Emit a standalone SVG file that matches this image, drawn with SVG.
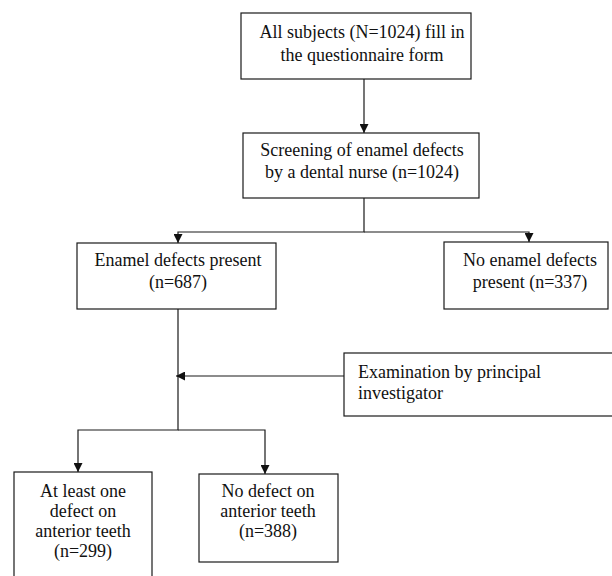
<svg xmlns="http://www.w3.org/2000/svg" width="612" height="576" viewBox="0 0 612 576">
<style>
.box{fill:#fff;stroke:#1a1a1a;stroke-width:1.2}
.t{font-family:"Liberation Serif","Times New Roman",serif;font-size:18px;fill:#111}
.c{text-anchor:middle}
.ln{fill:none;stroke:#1a1a1a;stroke-width:1.2}
</style>
<defs>
<marker id="ah" viewBox="0 0 10 10" refX="10" refY="5" markerWidth="9" markerHeight="9" markerUnits="userSpaceOnUse" orient="auto">
<path d="M0,0 L10,5 L0,10 Z" fill="#111"/>
</marker>
</defs>
<rect width="612" height="576" fill="#fff"/>
<g id="connectors">
<path class="ln" d="M364,79 V133" marker-end="url(#ah)"/>
<path class="ln" d="M364,198 V232 H178 V243" marker-end="url(#ah)"/>
<path class="ln" d="M364,232 H529 V242" marker-end="url(#ah)"/>
<path class="ln" d="M178,309 V430 H78 V472" marker-end="url(#ah)"/>
<path class="ln" d="M178,430 H265 V474" marker-end="url(#ah)"/>
<path class="ln" d="M344,376 H176" marker-end="url(#ah)"/>
</g>
<g id="n1">
<rect class="box" x="241" y="13" width="230" height="66"/>
<text class="t c" x="362" y="38">All subjects (N=1024) fill in</text>
<text class="t c" x="362" y="61">the questionnaire form</text>
</g>
<g id="n2">
<rect class="box" x="243" y="133" width="236" height="65"/>
<text class="t c" x="362" y="156">Screening of enamel defects</text>
<text class="t c" x="362" y="178">by a dental nurse (n=1024)</text>
</g>
<g id="n3">
<rect class="box" x="77" y="243" width="199" height="66"/>
<text class="t c" x="178" y="266">Enamel defects present</text>
<text class="t c" x="178" y="288">(n=687)</text>
</g>
<g id="n4">
<rect class="box" x="444" y="242" width="164" height="67"/>
<text class="t c" x="530" y="266">No enamel defects</text>
<text class="t c" x="530" y="288">present (n=337)</text>
</g>
<g id="n5">
<rect class="box" x="344" y="353" width="272" height="63"/>
<text class="t" x="358" y="378">Examination by principal</text>
<text class="t" x="358" y="399">investigator</text>
</g>
<g id="n6">
<rect class="box" x="14" y="472" width="138" height="110"/>
<text class="t c" x="83" y="497">At least one</text>
<text class="t c" x="83" y="517">defect on</text>
<text class="t c" x="83" y="537">anterior teeth</text>
<text class="t c" x="83" y="557">(n=299)</text>
</g>
<g id="n7">
<rect class="box" x="199" y="474" width="139" height="88"/>
<text class="t c" x="268" y="497">No defect on</text>
<text class="t c" x="268" y="517">anterior teeth</text>
<text class="t c" x="268" y="537">(n=388)</text>
</g>
</svg>
